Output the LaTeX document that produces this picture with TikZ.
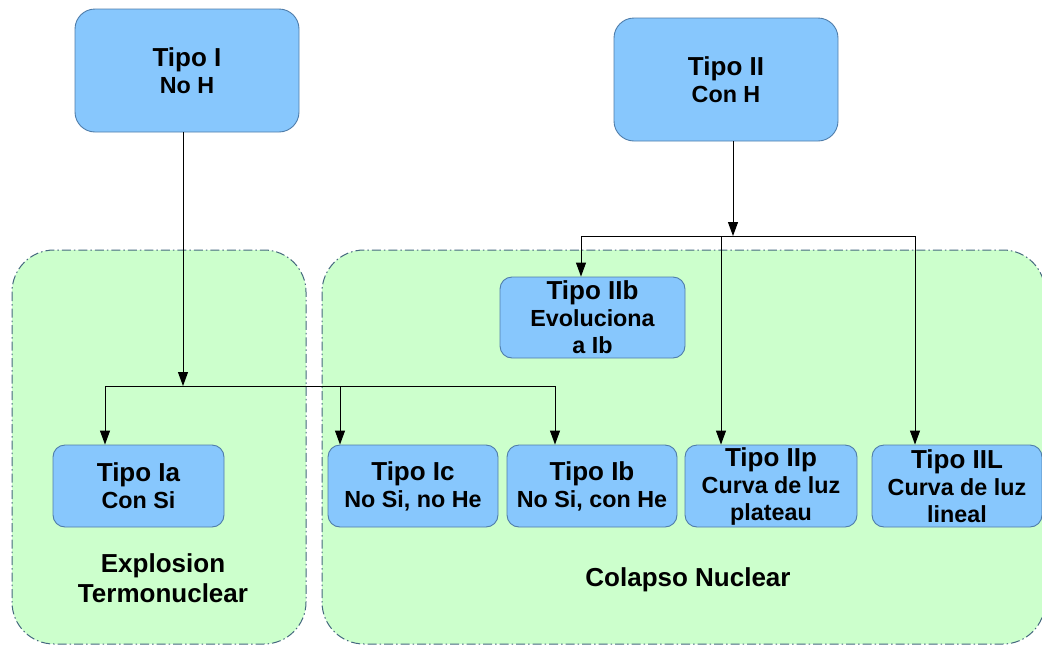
\documentclass[tikz,border=0pt]{standalone}
\usepackage{fontspec}
\setmainfont{Liberation Sans}
\usetikzlibrary{arrows.meta}
\definecolor{boxblue}{HTML}{87C7FD}
\definecolor{boxedge}{HTML}{4F7DAA}
\definecolor{groupgreen}{HTML}{CCFFCC}
\definecolor{groupedge}{HTML}{46697F}
\tikzset{
  typebox/.style={draw=boxedge, fill=boxblue, line width=0.9pt, rounded corners=12pt,
    align=center, inner sep=0pt, font=\bfseries\fontsize{23.3}{27}\selectfont},
  bigbox/.style={typebox, rounded corners=20pt, minimum width=224pt, minimum height=123pt},
  smallbox/.style={typebox, minimum width=171pt, minimum height=82pt},
  group/.style={draw=groupedge, fill=groupgreen, line width=1pt, rounded corners=42pt,
    dash pattern=on 9pt off 3pt on 1.5pt off 3pt},
  grouplabel/.style={align=center, font=\bfseries\fontsize{26}{30}\selectfont},
  conn/.style={draw=black, line width=1pt},
  arr/.style={conn, -{Triangle[length=14pt,width=10pt]}},
}
\newcommand{\hd}[1]{{\fontsize{26}{27}\selectfont #1}}
\begin{document}
\begin{tikzpicture}[x=1pt,y=-1pt]
\useasboundingbox (0,0) rectangle (1042,646);
% groups
\path[group] (12,250) rectangle (306,644);
\path[group] (322,250) rectangle (1045,644);
% nodes
\node[bigbox] (TI) at (187,70.5) {\hd{Tipo I}\\No H};
\node[bigbox] (TII) at (726,79.5) {\hd{Tipo II}\\Con H};
\node[smallbox] (Ia) at (138.5,486) {\hd{Tipo Ia}\\Con Si};
\node[smallbox, minimum width=170pt] (Ic) at (413,486) {\hd{Tipo Ic}\\No Si, no He};
\node[smallbox, minimum width=170pt] (Ib) at (592,486) {\hd{Tipo Ib}\\No Si, con He};
\node[smallbox, minimum width=172pt] (IIp) at (771,486) {\hd{Tipo IIp}\\Curva de luz\\plateau};
\node[smallbox, minimum width=170pt] (IIL) at (957,486) {\hd{Tipo IIL}\\Curva de luz\\lineal};
\node[smallbox, minimum width=185pt, minimum height=81pt] (IIb) at (592.5,317.5) {\hd{Tipo IIb}\\Evoluciona\\a Ib};
\node[grouplabel] (EX) at (163,578) {Explosion\\Termonuclear};
\node[grouplabel] (CN) at (688,580) {Colapso Nuclear};
% left tree
\coordinate (jL) at (183,386);
\coordinate (bL1) at (105,386);
\coordinate (bL2) at (340,386);
\coordinate (bL3) at (555,386);
\draw[arr] (TI.south -| jL) -- (jL);
\draw[conn] (bL1) -- (bL3);
\draw[arr] (bL1) -- (bL1 |- Ia.north);
\draw[arr] (bL2) -- (bL2 |- Ic.north);
\draw[arr] (bL3) -- (bL3 |- Ib.north);
% right tree
\coordinate (jR) at (733,236);
\coordinate (bR1) at (581,236);
\coordinate (bR2) at (721,236);
\coordinate (bR3) at (915,236);
\draw[arr] (TII.south -| jR) -- (jR);
\draw[conn] (bR1) -- (bR3);
\draw[arr] (bR1) -- (bR1 |- IIb.north);
\draw[arr] (bR2) -- (bR2 |- IIp.north);
\draw[arr] (bR3) -- (bR3 |- IIL.north);
\end{tikzpicture}
\end{document}
